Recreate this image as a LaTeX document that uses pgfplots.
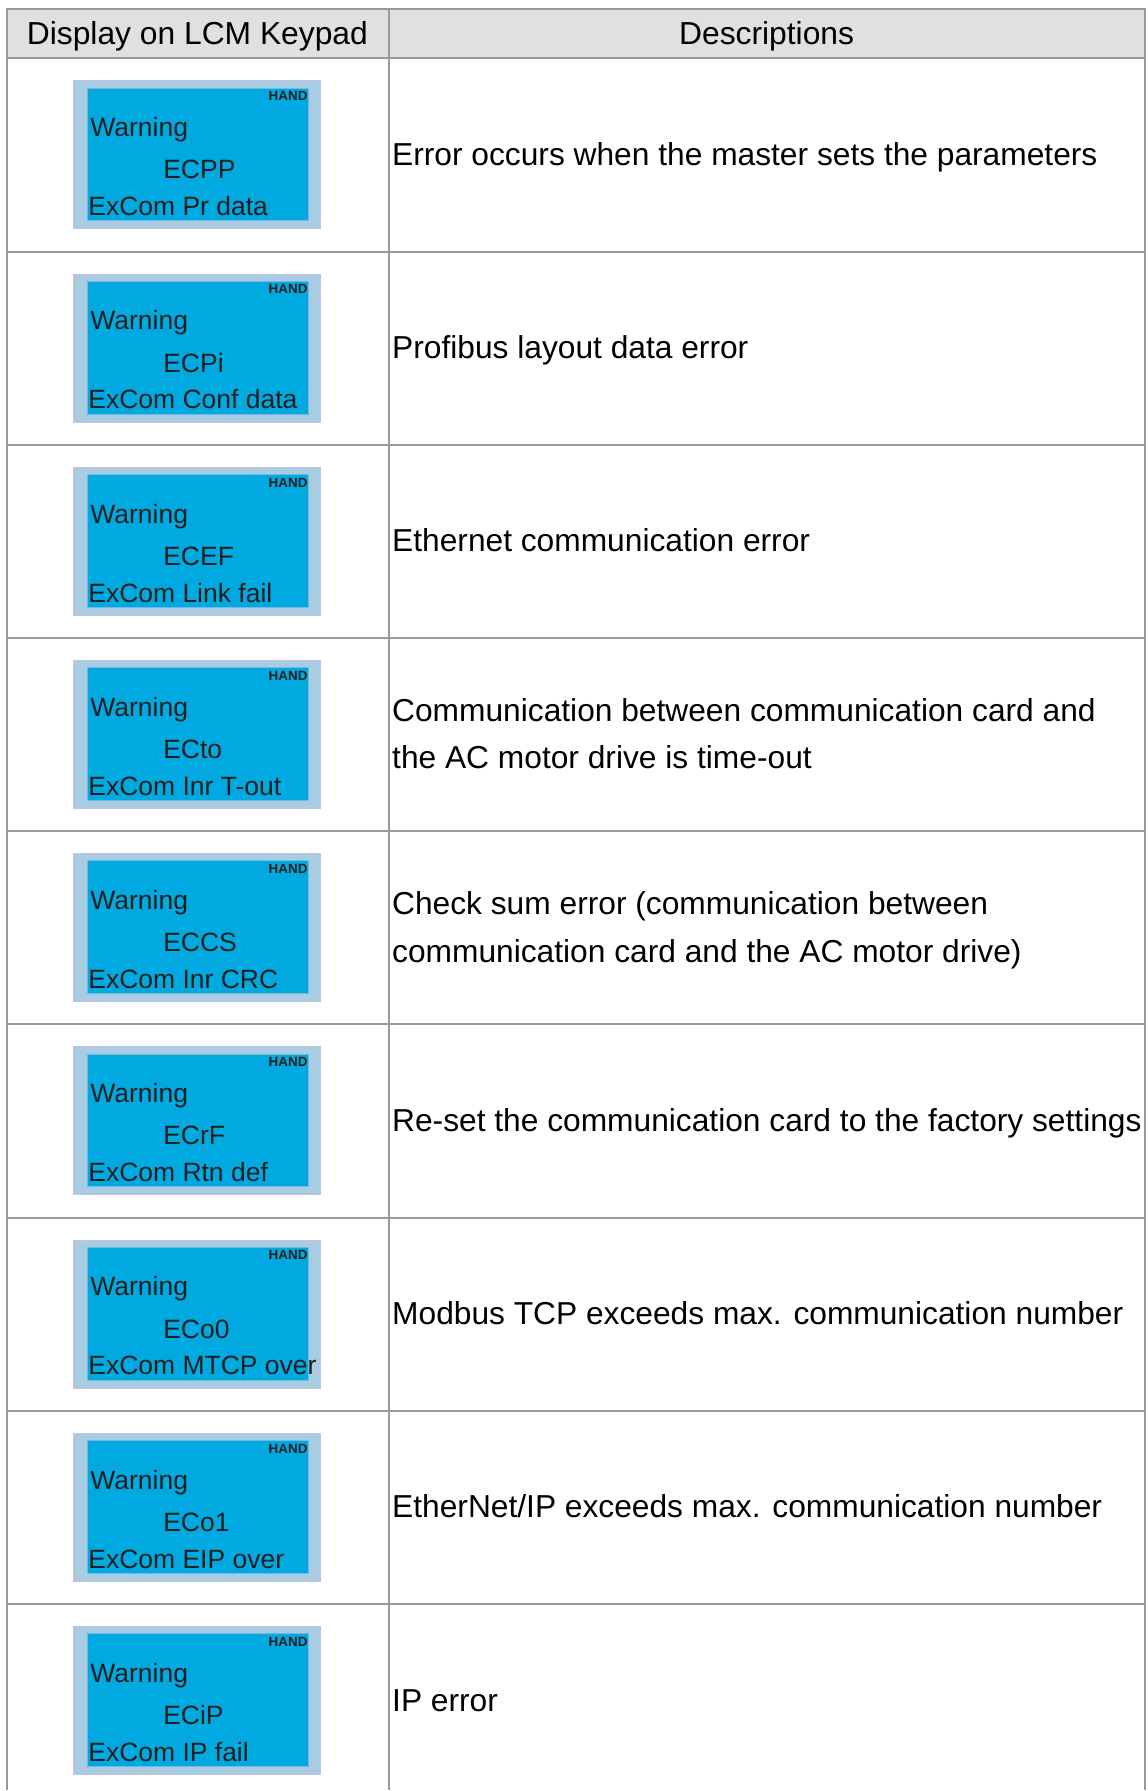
\documentclass[border=0pt]{standalone}
\usepackage{pgfplots}
\pgfplotsset{compat=1.18}
\usepackage{fontspec}
\setmainfont{Liberation Sans}
\definecolor{gridc}{RGB}{153,153,153}
\definecolor{headc}{RGB}{224,224,224}
\definecolor{lcmout}{RGB}{168,204,226}
\definecolor{lcmedge}{RGB}{200,192,226}
\definecolor{lcmin}{RGB}{0,170,224}
\definecolor{lcmtxt}{RGB}{30,30,30}
\newcommand{\desc}{\fontsize{15.87pt}{18pt}\selectfont}
\newcommand{\lcm}{\fontsize{13.25pt}{15pt}\selectfont}
\newcommand{\hand}{\fontsize{6.7pt}{8pt}\selectfont\bfseries}
% one LCM keypad display in the row whose top edge is at #1
\newcommand{\lcmrow}[3]{%
  \fill[lcmout] (axis cs:74,{#1+22.5}) rectangle (axis cs:321,{#1+170.5});
  \draw[lcmedge,line width=0.5pt] (axis cs:74,{#1+22.5}) rectangle (axis cs:321,{#1+170.5});
  \fill[lcmin] (axis cs:87,{#1+29.5}) rectangle (axis cs:309,{#1+162.5});
  \draw[lcmedge!60!lcmin,line width=0.4pt] (axis cs:87,{#1+29.5}) rectangle (axis cs:309,{#1+162.5});
  \node[anchor=base east,inner sep=0pt,text=lcmtxt] at (axis cs:308,{#1+42.2}) {\hand HAND};
  \node[anchor=base west,inner sep=0pt,text=lcmtxt] at (axis cs:90,{#1+78.3}) {\lcm Warning};
  \node[anchor=base west,inner sep=0pt,text=lcmtxt] at (axis cs:163,{#1+120.6}) {\lcm #2};
  \node[anchor=base west,inner sep=0pt,text=lcmtxt] at (axis cs:88,{#1+157.3}) {\lcm #3};
}
\newcommand{\onedesc}[2]{%
  \node[anchor=base west,inner sep=0pt] at (axis cs:392,{#1+107.2}) {\desc #2};
}
\newcommand{\twodesc}[3]{%
  \node[anchor=base west,inner sep=0pt] at (axis cs:392,{#1+83.3}) {\desc #2};
  \node[anchor=base west,inner sep=0pt] at (axis cs:392,{#1+131}) {\desc #3};
}
\begin{document}
\begin{tikzpicture}
\begin{axis}[
  scale only axis, width=574pt, height=895.5pt,
  xmin=0, xmax=1148, ymin=0, ymax=1791, y dir=reverse,
  hide axis, clip=false]
% header fill
\addplot[draw=none, fill=headc] coordinates {(7,9) (1146,9) (1146,58.5) (7,58.5)} -- cycle;
% table lines
\addplot[gridc, line width=1pt] coordinates {(7,1791) (7,9) (1146,9) (1146,1791)};
\addplot[gridc, line width=1pt] coordinates {(389,9) (389,1791)};
\addplot[gridc, line width=1pt] coordinates {(7,58.5) (1146,58.5)};
\addplot[gridc, line width=1pt] coordinates {(7,251.8) (1146,251.8)};
\addplot[gridc, line width=1pt] coordinates {(7,445.1) (1146,445.1)};
\addplot[gridc, line width=1pt] coordinates {(7,638.4) (1146,638.4)};
\addplot[gridc, line width=1pt] coordinates {(7,831.7) (1146,831.7)};
\addplot[gridc, line width=1pt] coordinates {(7,1025.0) (1146,1025.0)};
\addplot[gridc, line width=1pt] coordinates {(7,1218.3) (1146,1218.3)};
\addplot[gridc, line width=1pt] coordinates {(7,1411.6) (1146,1411.6)};
\addplot[gridc, line width=1pt] coordinates {(7,1604.9) (1146,1604.9)};
% header text
\node[anchor=base,inner sep=0pt] at (axis cs:197.5,45) {\fontsize{15.9pt}{18pt}\selectfont Display on LCM Keypad};
\node[anchor=base,inner sep=0pt] at (axis cs:767,45) {\fontsize{15.9pt}{18pt}\selectfont Descriptions};
% rows
\lcmrow{58.5}{ECPP}{ExCom Pr data}
\onedesc{58.5}{Error occurs when the master sets the parameters}
\lcmrow{251.8}{ECPi}{ExCom Conf data}
\onedesc{251.8}{Profibus layout data error}
\lcmrow{445.1}{ECEF}{ExCom Link fail}
\onedesc{445.1}{Ethernet communication error}
\lcmrow{638.4}{ECto}{ExCom Inr T-out}
\twodesc{638.4}{Communication between communication card and}{the AC motor drive is time-out}
\lcmrow{831.7}{ECCS}{ExCom Inr CRC}
\twodesc{831.7}{Check sum error (communication between}{communication card and the AC motor drive)}
\lcmrow{1025.0}{ECrF}{ExCom Rtn def}
\onedesc{1025.0}{Re-set the communication card to the factory settings}
\lcmrow{1218.3}{ECo0}{ExCom MTCP over}
\onedesc{1218.3}{Modbus TCP exceeds max. communication number}
\lcmrow{1411.6}{ECo1}{ExCom EIP over}
\onedesc{1411.6}{EtherNet/IP exceeds max. communication number}
\lcmrow{1604.9}{ECiP}{ExCom IP fail}
\onedesc{1604.9}{IP error}
\path (axis cs:0,0) (axis cs:1148,1791);
\end{axis}
\end{tikzpicture}
\end{document}
